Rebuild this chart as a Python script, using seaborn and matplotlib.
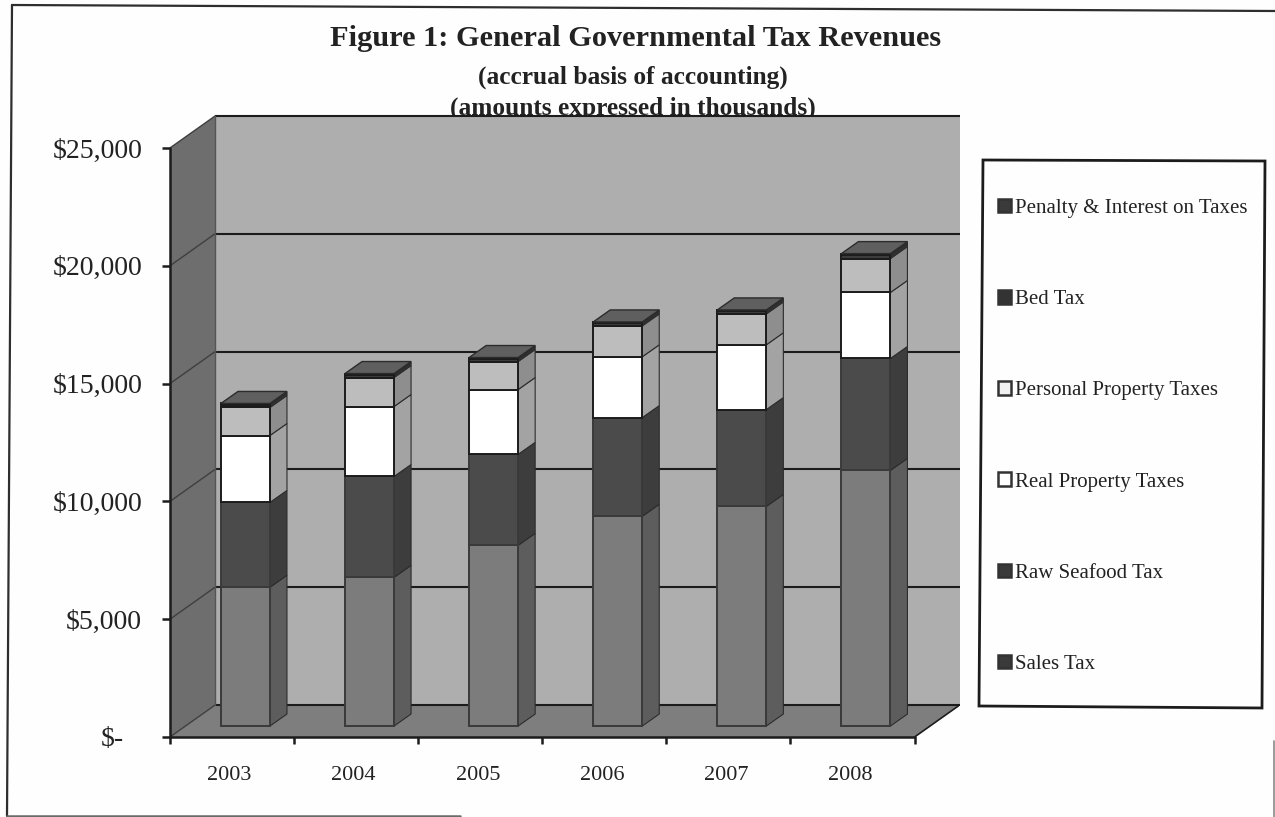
import matplotlib
matplotlib.use("Agg")
import matplotlib.pyplot as plt
from matplotlib.lines import Line2D
from matplotlib.patches import Patch, Polygon
import numpy as np
import seaborn as sns

# Tax revenue by year, in thousands of dollars
years = ["2003", "2004", "2005", "2006", "2007", "2008"]
sales_tax = [5890, 6310, 7670, 8900, 9320, 10850]
raw_seafood_tax = [3600, 4280, 3860, 4190, 4110, 4750]
real_property_taxes = [2840, 2970, 2750, 2580, 2750, 2800]
personal_property_taxes = [1190, 1230, 1190, 1310, 1310, 1440]
bed_tax = [110, 110, 110, 110, 110, 130]
penalty_interest = [60, 60, 60, 60, 60, 80]

series_names = ["Sales Tax", "Raw Seafood Tax", "Real Property Taxes",
                "Personal Property Taxes", "Bed Tax", "Penalty & Interest on Taxes"]
series_values = [sales_tax, raw_seafood_tax, real_property_taxes,
                 personal_property_taxes, bed_tax, penalty_interest]
front_colors = ["#7c7c7c", "#4b4b4b", "#ffffff", "#bdbdbd", "#3c3c3c", "#3c3c3c"]
side_colors = ["#5d5d5d", "#3d3d3d", "#a3a3a3", "#8e8e8e", "#333333", "#333333"]
edge_colors = ["#3a3a3a", "#3a3a3a", "#1c1c1c", "#1c1c1c", "#1c1c1c", "#1c1c1c"]
legend_colors = ["#3a3a3a", "#3a3a3a", "#ffffff", "#f0f0f0", "#333333", "#3a3a3a"]

yticks = [0, 5000, 10000, 15000, 20000, 25000]
yticklabels = ["", "$5,000", "$10,000", "$15,000", "$20,000", "$25,000"]

# Oblique projection: offsets of the back wall and of the bars, in data units
WALL_DX, WALL_DY = 0.363, 1356
BAR_BASE = 466
BAR_DX, BAR_DY = 0.137, 509
BAR_WIDTH = 0.395
X_LEFT, X_RIGHT = -0.608, 5.75
FLOOR_RIGHT = X_LEFT + 6

INK = "#1c1c1c"
TEXT = "#222222"
SERIF = "Liberation Serif"

W, H = 1275, 817
sns.set_theme(style="white", rc={"font.family": SERIF})
fig = plt.figure(figsize=(W / 100, H / 100), dpi=100, facecolor="#fefefe")
ax = fig.add_axes([170 / W, 1 - 737 / H, 789 / W, 621 / H])
ax.patch.set_alpha(0)

# Back wall, side wall and floor
wall_x = [X_LEFT + WALL_DX, FLOOR_RIGHT + WALL_DX]
ax.fill_between(wall_x, WALL_DY, 25000 + WALL_DY, color="#aeaeae", lw=0, zorder=1)
ax.fill([X_LEFT, X_LEFT + WALL_DX, X_LEFT + WALL_DX, X_LEFT],
        [0, WALL_DY, 25000 + WALL_DY, 25000], color="#6e6e6e", lw=0, zorder=1)
ax.fill([X_LEFT, FLOOR_RIGHT, FLOOR_RIGHT + WALL_DX, X_LEFT + WALL_DX],
        [0, 0, WALL_DY, WALL_DY], color="#7e7e7e", lw=0, zorder=1)

# Gridlines run along the back wall and slant down the side wall
for tick in yticks:
    ax.plot(wall_x, [tick + WALL_DY] * 2, color=INK, lw=1.5, zorder=2,
            solid_capstyle="butt", clip_on=False)
    ax.plot([X_LEFT, X_LEFT + WALL_DX], [tick, tick + WALL_DY],
            color="#3f3f3f", lw=1.0, zorder=2, clip_on=False)
ax.plot([X_LEFT + WALL_DX] * 2, [WALL_DY, 25000 + WALL_DY], color="#555555", lw=1, zorder=2)
ax.plot([X_LEFT, X_LEFT], [0, 25000], color=INK, lw=1.8, zorder=2, clip_on=False)
ax.plot([X_LEFT, FLOOR_RIGHT], [0, 0], color=INK, lw=1.8, zorder=6, clip_on=False)
ax.plot([FLOOR_RIGHT, FLOOR_RIGHT + WALL_DX], [0, WALL_DY], color=INK, lw=1.2, zorder=2)

# Stacked columns: side faces and caps as polygons, front faces through seaborn
x_pos = np.arange(len(years))
bottoms = np.full(len(years), BAR_BASE, dtype=float)
for values, front, side, edge in zip(series_values, front_colors, side_colors, edge_colors):
    values = np.asarray(values, dtype=float)
    for xc, lo, hi in zip(x_pos, bottoms, bottoms + values):
        xr = xc + BAR_WIDTH / 2
        ax.fill([xr, xr + BAR_DX, xr + BAR_DX, xr],
                [lo, lo + BAR_DY, hi + BAR_DY, hi],
                facecolor=side, edgecolor="#2c2c2c", lw=0.8, zorder=3)
    sns.barplot(x=years, y=values, bottom=bottoms, order=years, width=BAR_WIDTH,
                color=front, saturation=1, edgecolor=edge, linewidth=1.4,
                errorbar=None, zorder=4, ax=ax)
    bottoms = bottoms + values

for xc, top in zip(x_pos, bottoms):
    xl, xr = xc - BAR_WIDTH / 2, xc + BAR_WIDTH / 2
    ax.fill([xl, xr, xr + BAR_DX, xl + BAR_DX],
            [top, top, top + BAR_DY, top + BAR_DY],
            facecolor="#5f5f5f", edgecolor="#2c2c2c", lw=1.0, zorder=5)

ax.set_xlim(X_LEFT, X_RIGHT)
ax.set_ylim(0, 25000 + WALL_DY)
sns.despine(ax=ax, left=True, bottom=True, right=True, top=True)
ax.grid(False)
ax.set_xlabel("")
ax.set_ylabel("")

# Value axis on the left edge, year labels centred between floor ticks
ax.set_yticks(yticks, yticklabels, fontsize=20, color=TEXT, family=SERIF)
ax.tick_params(axis="y", left=True, length=6, width=1.8, color=INK, pad=14)
ax.annotate("$-", xy=(0, 0), xycoords=("axes fraction", "data"), xytext=(-33, -1.5),
            textcoords="offset points", ha="right", va="center",
            fontsize=20, color=TEXT, family=SERIF, annotation_clip=False)
ax.set_xticks(X_LEFT + np.arange(7))
ax.set_xticklabels([])
ax.tick_params(axis="x", which="major", bottom=True, length=5, width=1.8, color=INK)
ax.set_xticks(X_LEFT + np.arange(6) + 0.48, minor=True)
ax.set_xticklabels(years, minor=True, fontsize=16, color=TEXT, family=SERIF)
ax.tick_params(axis="x", which="minor", bottom=False, pad=17)

# Titles sit behind the plot so the wall edge trims the last line
title_kw = dict(ha="center", va="center", family=SERIF, weight="bold", color=TEXT, zorder=-1)
fig.text(636 / W, 1 - 39 / H, "Figure 1: General Governmental Tax Revenues", fontsize=21.9, **title_kw)
fig.text(633 / W, 1 - 77 / H, "(accrual basis of accounting)", fontsize=18.3, **title_kw)
fig.text(633 / W, 1 - 108 / H, "(amounts expressed in thousands)", fontsize=18.3, **title_kw)

# Legend box is slightly skewed; entries list the stack from the top down
box_pts = [(983, 160), (1265, 161), (1262, 708), (979, 706)]
fig.add_artist(Polygon([(x / W, 1 - y / H) for x, y in box_pts], closed=True,
                       transform=fig.transFigure, facecolor="#fefefe",
                       edgecolor=INK, linewidth=2, zorder=1))
handles = [Patch(facecolor=c, edgecolor="#333333", linewidth=1.8, label=n)
           for n, c in zip(series_names[::-1], legend_colors[::-1])]
legend = fig.legend(handles=handles, loc="upper left",
                    bbox_to_anchor=(998 / W, 1 - 199 / H), bbox_transform=fig.transFigure,
                    frameon=False, borderpad=0, labelspacing=3.46,
                    handlelength=0.62, handleheight=0.62, handletextpad=0.2, borderaxespad=0,
                    prop={"family": SERIF, "size": 15})
legend.set_zorder(2)
for text in legend.get_texts():
    text.set_color(TEXT)

# Outer border of the chart area
border_kw = dict(transform=fig.transFigure, color="#2e2e2e", zorder=1)
fig.add_artist(Line2D([12 / W, 1275 / W], [1 - 5 / H, 1 - 11 / H], lw=1.6, **border_kw))
fig.add_artist(Line2D([12 / W, 7 / W], [1 - 5 / H, 1 - 816 / H], lw=1.6, **border_kw))
fig.add_artist(Line2D([7 / W, 460 / W], [1 - 816 / H, 1 - 816 / H], lw=1.8,
                      transform=fig.transFigure, color="#6a6a6a", zorder=1))
fig.add_artist(Line2D([1274 / W, 1274 / W], [1 - 741 / H, 1 - 817 / H], lw=1.2,
                      transform=fig.transFigure, color="#8a8a8a", zorder=1))

fig.savefig("out.png", dpi=100, facecolor=fig.get_facecolor())
